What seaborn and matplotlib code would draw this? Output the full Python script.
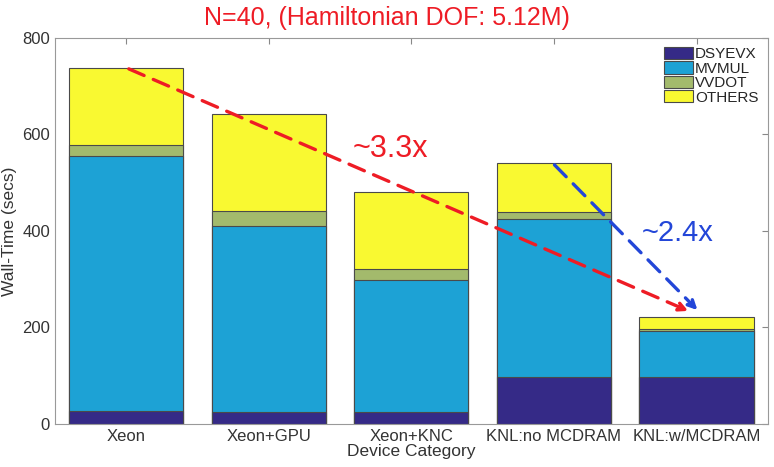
import pandas as pd
import matplotlib.pyplot as plt
import seaborn as sns
import numpy as np

# values (seconds)
devices = ["Xeon", "Xeon+GPU", "Xeon+KNC", "KNL:no MCDRAM", "KNL:w/MCDRAM"]
dsyevx = [27, 25, 25, 97, 97]
mvmul = [528, 385, 273, 328, 96]
vvdot = [23, 31, 23, 14, 4]
others = [160, 201, 160, 102, 24]

parts = ["DSYEVX", "MVMUL", "VVDOT", "OTHERS"]
colors = ["#352A87", "#1DA2D5", "#A3BA6C", "#F9F931"]

df = pd.DataFrame({"Device": devices, "DSYEVX": dsyevx, "MVMUL": mvmul,
                   "VVDOT": vvdot, "OTHERS": others})
cum = df[parts].cumsum(axis=1)

sns.set_style("white")
plt.rcParams['font.family'] = ['Liberation Sans', 'DejaVu Sans']

fig = plt.figure(figsize=(7.74, 4.67), dpi=100)
ax = fig.add_axes([0.071, 0.092, 0.921, 0.827])

# stacked bars: draw the cumulative totals from the top down
for part, col in reversed(list(zip(parts, colors))):
    sns.barplot(x=df["Device"], y=cum[part], color=col, edgecolor="#4a4a4a",
                linewidth=0.8, width=0.8, saturation=1, ax=ax, label=part)

ax.set_xlim(-0.5, 4.5)
ax.set_ylim(0, 800)
ax.set_yticks([0, 200, 400, 600, 800])
ax.set_xlabel("Device Category", fontsize=12.5, color="#333333", labelpad=0)
ax.set_ylabel("Wall-Time (secs)", fontsize=12.5, color="#333333")
ax.tick_params(direction="in", length=4, top=True, right=True, colors="#888888",
               labelcolor="#333333", labelsize=12)
for s in ax.spines.values():
    s.set_color("#999999")
    s.set_linewidth(0.8)

# legend in DSYEVX..OTHERS order
handles, labels = ax.get_legend_handles_labels()
order = [labels.index(p) for p in parts]
ax.legend([handles[i] for i in order], parts, loc="upper right", frameon=False,
          fontsize=11, handlelength=1.9, handleheight=0.85, handletextpad=0.15,
          labelspacing=0.0, borderaxespad=0.2)

# speedup arrows
total = cum["OTHERS"].tolist()
ax.annotate("", xy=(3.96, 232), xytext=(0, total[0]),
            arrowprops=dict(arrowstyle="-|>", color="#EE1C25", lw=2.4,
                            linestyle=(0, (5, 3)), mutation_scale=13))
ax.annotate("", xy=(4.02, 232), xytext=(2.99, total[3]),
            arrowprops=dict(arrowstyle="-|>", color="#2346D8", lw=2.4,
                            linestyle=(0, (5, 3)), mutation_scale=13))
ax.text(1.85, 570, "~3.3x", color="#EE1C25", fontsize=22, ha="center", va="center")
ax.text(3.87, 396, "~2.4x", color="#2346D8", fontsize=21, ha="center", va="center")

fig.text(0.5, 0.962, "N=40, (Hamiltonian DOF: 5.12M)", color="#EE1C25",
         fontsize=18, ha="center", va="center")

fig.savefig("out.png", dpi=100)
